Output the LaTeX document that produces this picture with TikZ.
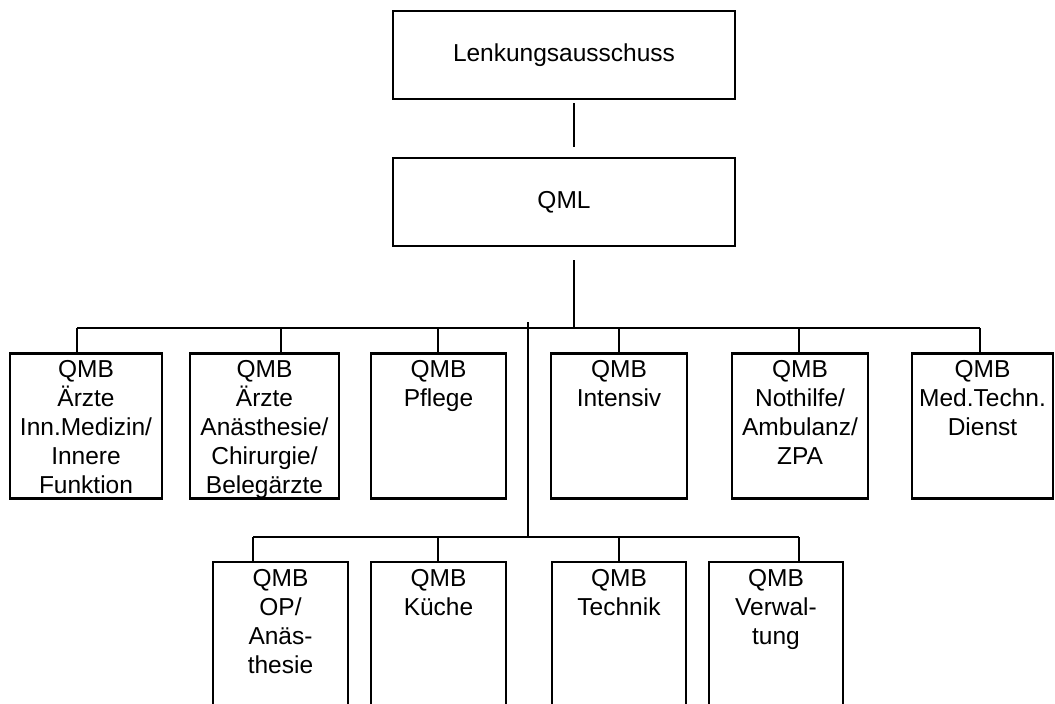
\documentclass[tikz,border=0pt]{standalone}
\usepackage{fontspec}
\setmainfont{Liberation Sans}
\usetikzlibrary{calc}
\begin{document}
\begin{tikzpicture}
  [
    x=1pt, y=-1pt,
    font=\fontsize{24.5}{29}\selectfont,
    topbox/.style={draw, line width=2.4pt, inner sep=0pt, align=center},
    qmbbox/.style={draw, line width=2.6pt, inner sep=0pt, anchor=north},
    lowbox/.style={qmbbox, line width=1.8pt},
    qmbtxt/.style={anchor=north, align=center, inner sep=0pt, yshift=-8pt},
    conn/.style={line width=2pt}
  ]
  \fill [white] (0,0) rectangle (1055,704);
  \clip (0,0) rectangle (1055,704);
  % top of the chart
  \node [topbox, minimum width=342, minimum height=88] (lenk) at (564, 55) {Lenkungsausschuss};
  \node [topbox, minimum width=342, minimum height=88] (qml)  at (564,202) {QML};
  % first row
  \node [qmbbox, minimum width=152, minimum height=145] (b1) at (  86,352) {};
  \node [qmbbox, minimum width=149, minimum height=145] (b2) at (264.5,352) {};
  \node [qmbbox, minimum width=135, minimum height=145] (b3) at (438.5,352) {};
  \node [qmbbox, minimum width=136, minimum height=145] (b4) at ( 619,352) {};
  \node [qmbbox, minimum width=136, minimum height=145] (b5) at ( 800,352) {};
  \node [qmbbox, minimum width=141, minimum height=145] (b6) at (982.5,352) {};
  \node [qmbtxt] (b1t) at (b1.north) {QMB\\Ärzte\\Inn.Medizin/\\Innere\\Funktion};
  \node [qmbtxt] (b2t) at (b2.north) {QMB\\Ärzte\\Anästhesie/\\Chirurgie/\\Belegärzte};
  \node [qmbtxt] (b3t) at (b3.north) {QMB\\Pflege};
  \node [qmbtxt] (b4t) at (b4.north) {QMB\\Intensiv};
  \node [qmbtxt] (b5t) at (b5.north) {QMB\\Nothilfe/\\Ambulanz/\\ZPA};
  \node [qmbtxt] (b6t) at (b6.north) {QMB\\Med.Techn.\\Dienst};
  % second row
  \node [lowbox, minimum width=135, minimum height=170] (c1) at (280.5,561) {};
  \node [lowbox, minimum width=135, minimum height=170] (c2) at (438.5,561) {};
  \node [lowbox, minimum width=134, minimum height=170] (c3) at ( 619,561) {};
  \node [lowbox, minimum width=134, minimum height=170] (c4) at ( 776,561) {};
  \node [qmbtxt] (c1t) at (c1.north) {QMB\\OP/\\Anäs-\\thesie};
  \node [qmbtxt] (c2t) at (c2.north) {QMB\\Küche};
  \node [qmbtxt] (c3t) at (c3.north) {QMB\\Technik};
  \node [qmbtxt] (c4t) at (c4.north) {QMB\\Verwal-\\tung};
  % connectors
  \coordinate (t0) at (574,328);
  \coordinate (t1) at ( 77,328);
  \coordinate (t2) at (281,328);
  \coordinate (t3) at (438,328);
  \coordinate (t4) at (619,328);
  \coordinate (t5) at (799,328);
  \coordinate (t6) at (980,328);
  \coordinate (v0) at (528,322);
  \coordinate (u1) at (253,537);
  \coordinate (u2) at (438,537);
  \coordinate (u3) at (619,537);
  \coordinate (u4) at (799,537);
  \draw [conn] ($(lenk.south -| t0)+(0,3)$) -- ($(qml.north -| t0)+(0,-10)$);
  \draw [conn] ($(qml.south -| t0)+(0,13)$) -- (t0);
  \draw [conn] (t1) -- (t6);
  \foreach \t/\b in {t1/b1, t2/b2, t3/b3, t4/b4, t5/b5, t6/b6}
    \draw [conn] (\t) -- (\t |- \b.north);
  \draw [conn] (v0) -- (v0 |- u1);
  \draw [conn] (u1) -- (u4);
  \foreach \u/\c in {u1/c1, u2/c2, u3/c3, u4/c4}
    \draw [conn] (\u) -- (\u |- \c.north);
\end{tikzpicture}
\end{document}
